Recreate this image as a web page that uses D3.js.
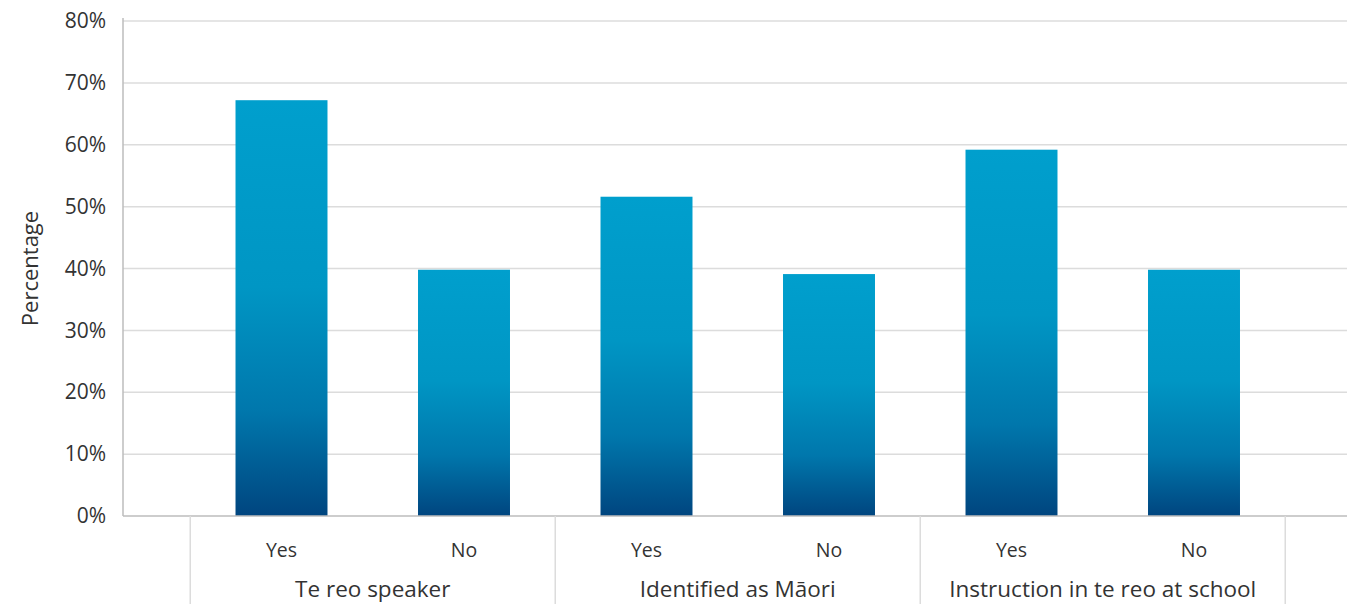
<!DOCTYPE html>
<html>
<head>
<meta charset="utf-8">
<script src="https://cdn.jsdelivr.net/npm/d3@7"></script>
<style>
  html, body { margin: 0; padding: 0; background: #fff; }
  svg { display: block; }
  text { font-family: "Open Sans", "Noto Sans", sans-serif; fill: #333; }
</style>
</head>
<body>
<svg id="chart" width="1347" height="604"></svg>
<script>
// Survey groups and answers
const groups = ["Te reo speaker", "Identified as Māori", "Instruction in te reo at school"];
const answers = ["Yes", "No"];
// Percentage per group, in answer order
const values = [
  [67.2, 39.8],
  [51.6, 39.1],
  [59.2, 39.8]
];
const yTicks = [0, 10, 20, 30, 40, 50, 60, 70, 80];

const W = 1347, H = 604;
const plot = { left: 123, right: 1347, top: 21, bottom: 516 };

const rows = [];
groups.forEach((g, gi) => answers.forEach((a, ai) => {
  rows.push({ key: g + "|" + a, group: g, answer: a, value: values[gi][ai] });
}));

const svg = d3.select("#chart");

const x = d3.scaleBand()
  .domain(rows.map(d => d.key))
  .range([190.25, 1285.25])
  .paddingInner(0.496)
  .paddingOuter(0.248);

const y = d3.scaleLinear().domain([0, 80]).range([plot.bottom, plot.top]);

// Bar gradient, dark at the base and bright at the top of each bar
const defs = svg.append("defs");
const grad = defs.append("linearGradient")
  .attr("id", "barGrad")
  .attr("x1", 0).attr("y1", 1).attr("x2", 0).attr("y2", 0);
[[0, "#00457f"], [0.25, "#0077ac"], [0.55, "#0096c4"], [1, "#009fcd"]]
  .forEach(([o, c]) => grad.append("stop").attr("offset", o).attr("stop-color", c));

// Horizontal gridlines
svg.append("g")
  .selectAll("line")
  .data(yTicks.filter(t => t > 0))
  .join("line")
  .attr("x1", plot.left).attr("x2", plot.right)
  .attr("y1", d => y(d)).attr("y2", d => y(d))
  .attr("stroke", "#dcdcdc").attr("stroke-width", 1.5);

// Bars
svg.append("g")
  .selectAll("rect")
  .data(rows)
  .join("rect")
  .attr("x", d => x(d.key))
  .attr("width", x.bandwidth())
  .attr("y", d => y(d.value))
  .attr("height", d => y(0) - y(d.value))
  .attr("fill", "url(#barGrad)");

// Y axis
const yAxis = svg.append("g")
  .attr("transform", `translate(${plot.left},0)`)
  .call(d3.axisLeft(y).tickValues(yTicks).tickFormat(d => d + "%").tickSize(0).tickPadding(17));
yAxis.select(".domain").attr("stroke", "#bdbdbd").attr("stroke-width", 1.5)
  .attr("d", `M0,${plot.top - 3}V${plot.bottom}`);
yAxis.selectAll("text").style("font-size", "21px").attr("fill", "#333");

// Baseline
svg.append("line")
  .attr("x1", plot.left).attr("x2", plot.right)
  .attr("y1", plot.bottom).attr("y2", plot.bottom)
  .attr("stroke", "#bdbdbd").attr("stroke-width", 1.5);

// Answer labels
svg.append("g")
  .selectAll("text")
  .data(rows)
  .join("text")
  .attr("x", d => x(d.key) + x.bandwidth() / 2)
  .attr("y", 557)
  .attr("text-anchor", "middle")
  .style("font-size", "19.5px")
  .text(d => d.answer);

// Group labels and separators
const step = x.step();
const groupInfo = groups.map(g => {
  const keys = rows.filter(r => r.group === g).map(r => r.key);
  const start = x(keys[0]) - step * x.paddingInner() / 2;
  const end = x(keys[keys.length - 1]) + x.bandwidth() + step * x.paddingInner() / 2;
  return { group: g, start, end };
});

svg.append("g")
  .selectAll("text")
  .data(groupInfo)
  .join("text")
  .attr("x", d => (d.start + d.end) / 2)
  .attr("y", 597)
  .attr("text-anchor", "middle")
  .style("font-size", "22.5px")
  .text(d => d.group);

const seps = [groupInfo[0].start].concat(groupInfo.map(d => d.end));
svg.append("g")
  .selectAll("line")
  .data(seps)
  .join("line")
  .attr("x1", d => d).attr("x2", d => d)
  .attr("y1", plot.bottom).attr("y2", H)
  .attr("stroke", "#dcdcdc").attr("stroke-width", 1.5);

// Y axis title
svg.append("text")
  .attr("transform", `translate(38,${(plot.top + plot.bottom) / 2}) rotate(-90)`)
  .attr("text-anchor", "middle")
  .style("font-size", "22px")
  .text("Percentage");
</script>
</body>
</html>
